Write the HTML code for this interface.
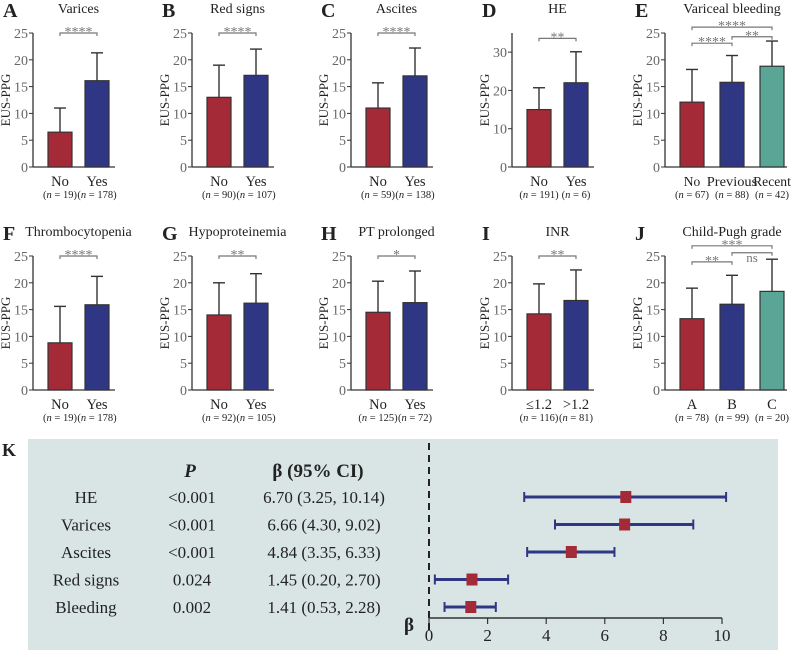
<!DOCTYPE html>
<html><head><meta charset="utf-8"><style>
body{margin:0;background:#fff}
svg{display:block;font-family:"Liberation Serif",serif}
</style></head><body>
<svg id="fig" width="800" height="650" viewBox="0 0 800 650"></svg>
<script>
const titles=["Varices","Red signs","Ascites","HE","Variceal bleeding","Thrombocytopenia","Hypoproteinemia","PT prolonged","INR","Child-Pugh grade"];
const letters=["A","B","C","D","E","F","G","H","I","J"];
const cats=[["No","Yes"],["No","Yes"],["No","Yes"],["No","Yes"],["No","Previous","Recent"],["No","Yes"],["No","Yes"],["No","Yes"],["≤1.2",">1.2"],["A","B","C"]];
const ns=[[19,178],[90,107],[59,138],[191,6],[67,88,42],[19,178],[92,105],[125,72],[116,81],[78,99,20]];
const means=[[6.5,16.1],[13,17.1],[11,17],[15,22],[12.1,15.8,18.8],[8.8,15.9],[14,16.2],[14.5,16.3],[14.2,16.7],[13.3,16,18.4]];
const errTop=[[11,21.3],[19,22],[15.7,22.2],[20.7,30.1],[18.2,20.8,23.5],[15.6,21.2],[20,21.7],[20.3,22.2],[19.8,22.4],[19,21.4,24.4]];
const yMax=[25,25,25,35,25,25,25,25,25,25];
const yTicks=[[0,5,10,15,20,25],[0,5,10,15,20,25],[0,5,10,15,20,25],[0,10,20,30],[0,5,10,15,20,25],[0,5,10,15,20,25],[0,5,10,15,20,25],[0,5,10,15,20,25],[0,5,10,15,20,25],[0,5,10,15,20,25]];
// significance brackets: [fromIdx,toIdx,yValue,label]
const sigs=[[[0,1,25,"****"]],[[0,1,25,"****"]],[[0,1,25,"****"]],[[0,1,33.6,"**"]],[[0,1,23.1,"****"],[1,2,24.3,"**"],[0,2,26.1,"****"]],[[0,1,25,"****"]],[[0,1,25,"**"]],[[0,1,25,"*"]],[[0,1,25,"**"]],[[0,1,23.9,"**"],[1,2,25.6,"ns"],[0,2,26.9,"***"]]];
const colors=["#a52a38","#2f3785","#5ba597"];
const svg=document.getElementById('fig');
const NS="http://www.w3.org/2000/svg";
function el(t,a,txt){const e=document.createElementNS(NS,t);for(const k in a)e.setAttribute(k,a[k]);if(txt!==undefined)e.textContent=txt;svg.appendChild(e);return e;}
const axX=[33,192,351,512,665];
for(let p=0;p<10;p++){
  const col=p%5,row=Math.floor(p/5);
  const ax=axX[col],oy=row*223;
  const yTop=33+oy,y0=167+oy;
  const ys=v=>y0-(v/yMax[p])*(y0-yTop);
  const k=cats[p].length;
  const bw=24,gap=k===3?40:37,start=ax+15;
  const cx=i=>start+bw/2+i*gap;
  let t=el('text',{x:ax-30,y:oy+17,'font-size':20,'font-weight':'bold',fill:'#222'},letters[p]);
  
  const endX=ax+(k===3?122:82);
  t=el('text',{x:(cx(0)+cx(k-1))/2,y:oy+13,'font-size':14,'text-anchor':'middle',fill:'#222'},titles[p]);
  
  let a=el('line',{x1:ax,y1:yTop,x2:ax,y2:y0,stroke:'#333','stroke-width':1.3});
  
  a=el('line',{x1:ax,y1:y0,x2:endX,y2:y0,stroke:'#333','stroke-width':1.3});
  
  yTicks[p].forEach(v=>{
    el('line',{x1:ax-4,y1:ys(v),x2:ax,y2:ys(v),stroke:'#333'});
    const tl=el('text',{x:ax-5,y:ys(v)+5,'font-size':14,'text-anchor':'end',fill:'#666'},v);
    
  });
  t=el('text',{x:0,y:0,'font-size':13,'text-anchor':'middle',fill:'#222',transform:`translate(${ax-23},${(yTop+y0)/2}) rotate(-90)`},'EUS-PPG');
  
  for(let i=0;i<k;i++){
    const x=cx(i);
    const ln=el('line',{x1:x,y1:ys(means[p][i]),x2:x,y2:ys(errTop[p][i]),stroke:'#333','stroke-width':1.4});
    
    el('line',{x1:x-6,y1:ys(errTop[p][i]),x2:x+6,y2:ys(errTop[p][i]),stroke:'#333','stroke-width':1.4});
    const r=el('rect',{x:x-bw/2,y:ys(means[p][i]),width:bw,height:y0-ys(means[p][i]),fill:colors[i],stroke:'#333','stroke-width':1.2});
    
    const lbAttrs={x:x,y:y0+19,'font-size':k===3&&p===4?13.5:14.5,'text-anchor':'middle',fill:'#222'};
    if(p===4&&i>0){lbAttrs.textLength=cats[p][i].length*6.3;lbAttrs.lengthAdjust='spacingAndGlyphs';}
    const lb=el('text',lbAttrs,cats[p][i]);
    
    const nl=el('text',{x:x,y:y0+31,'font-size':10.5,'text-anchor':'middle',fill:'#222'});
    nl.innerHTML='(<tspan font-style="italic">n</tspan> = '+ns[p][i]+')';
    
  }
  sigs[p].forEach(s=>{
    const y=ys(s[2]),x1=cx(s[0]),x2=cx(s[1]);
    const b=el('path',{d:`M${x1},${y+3}V${y}H${x2}V${y+3}`,fill:'none',stroke:'#777','stroke-width':1.2});
    
    const st=el('text',{x:(x1+x2)/2,y:s[3]==='ns'?y+9:y+3,'font-size':s[3]==='ns'?13:14,'text-anchor':'middle',fill:'#777'},s[3]);
    
  });
}
// Forest plot
const fNames=["HE","Varices","Ascites","Red signs","Bleeding"];
const fP=["<0.001","<0.001","<0.001","0.024","0.002"];
const fBeta=[6.70,6.66,4.84,1.45,1.41];
const fLo=[3.25,4.30,3.35,0.20,0.53];
const fHi=[10.14,9.02,6.33,2.70,2.28];
const fTicks=[0,2,4,6,8,10];
let bg=el('rect',{x:28,y:439,width:750,height:211,fill:'#d9e5e5'});

let K=el('text',{x:2,y:456,'font-size':18,'font-weight':'bold',fill:'#222'},'K');

const fx=v=>429+v*29.3;
const rowY=i=>497+i*27.5;
let h=el('text',{x:190,y:477,'font-size':19,'font-weight':'bold','font-style':'italic','text-anchor':'middle',fill:'#222'},'P');

h=el('text',{x:318,y:477,'font-size':19,'font-weight':'bold','text-anchor':'middle',fill:'#222'},'β (95% CI)');

let d=el('line',{x1:429,y1:443,x2:429,y2:630,stroke:'#222','stroke-width':2,'stroke-dasharray':'7,5'});

fNames.forEach((n,i)=>{
  const y=rowY(i);
  let t=el('text',{x:86,y:y+6,'font-size':17,'text-anchor':'middle',fill:'#222'},n);
  t=el('text',{x:192,y:y+6,'font-size':17,'text-anchor':'middle',fill:'#222'},fP[i]);
  t=el('text',{x:324,y:y+6,'font-size':17,'text-anchor':'middle',fill:'#222'},fBeta[i].toFixed(2)+' ('+fLo[i].toFixed(2)+', '+fHi[i].toFixed(2)+')');
  const l=el('line',{x1:fx(fLo[i]),y1:y,x2:fx(fHi[i]),y2:y,stroke:'#2f3785','stroke-width':3});
  
  el('line',{x1:fx(fLo[i]),y1:y-5,x2:fx(fLo[i]),y2:y+5,stroke:'#2f3785','stroke-width':2});
  el('line',{x1:fx(fHi[i]),y1:y-5,x2:fx(fHi[i]),y2:y+5,stroke:'#2f3785','stroke-width':2});
  const m=el('rect',{x:fx(fBeta[i])-5,y:y-6,width:11,height:12,fill:'#a52a38'});
  
});
let fa=el('line',{x1:429,y1:618,x2:fx(10),y2:618,stroke:'#333','stroke-width':1.5});

fTicks.forEach(v=>{
  el('line',{x1:fx(v),y1:618,x2:fx(v),y2:624,stroke:'#333','stroke-width':1.2});
  const t=el('text',{x:fx(v),y:641,'font-size':17,'text-anchor':'middle',fill:'#222'},v);
  
});
let bt=el('text',{x:404,y:631,'font-size':19,'font-weight':'bold',fill:'#222'},'β');

</script>
</body></html>
